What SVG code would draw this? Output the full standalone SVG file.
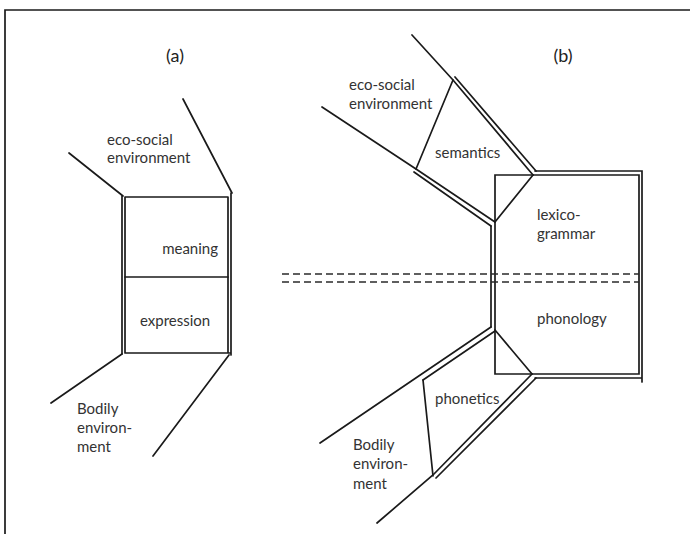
<svg xmlns="http://www.w3.org/2000/svg" width="690" height="534" viewBox="0 0 690 534">
<style>
.ln{stroke:#1a1a1a;stroke-width:1.7;fill:none;stroke-linecap:round;stroke-linejoin:miter}
.dash{stroke:#2a2a2a;stroke-width:1.7;fill:none;stroke-dasharray:7,4}
.t{font-family:Lato,"Open Sans","Liberation Sans",sans-serif;font-size:15px;fill:#333}
.h{font-family:Lato,"Open Sans","Liberation Sans",sans-serif;font-size:18px;fill:#222}
</style>
<rect width="690" height="534" fill="#fff"/>
<g id="frame"><path class="ln" d="M5,534 V10 H690"/></g>
<g id="titles">
<text class="h" x="175" y="62" text-anchor="middle">(a)</text>
<text class="h" x="563" y="62" text-anchor="middle">(b)</text>
</g>
<g id="panel-a">
<g id="a-box">
<path class="ln" d="M122,196 V354 M125,197 V353 M228,197 V353 M231,193 V355 M125,197 H228 M125,353 H231"/>
</g>
<g id="a-meaning"><text class="t" x="218" y="254" text-anchor="end">meaning</text></g>
<g id="a-expression"><path class="ln" d="M125,277 H228"/><text class="t" x="140" y="326">expression</text></g>
<g id="a-eco"><text class="t" x="107" y="145">eco-social</text><text class="t" x="107" y="163">environment</text></g>
<g id="a-body"><text class="t" x="77" y="414">Bodily</text><text class="t" x="77" y="433">environ-</text><text class="t" x="77" y="452">ment</text></g>
</g>
<g id="panel-b">
<g id="b-box">
<path class="ln" d="M495,175 H639 V374 H495 Z"/>
<path class="ln" d="M535,171 H642 V382 M535,378 H642 M491,226 V327"/>
</g>
<g id="b-lexicogrammar"><text class="t" x="537" y="220">lexico-</text><text class="t" x="537" y="239">grammar</text></g>
<g id="b-phonology"><text class="t" x="537" y="324">phonology</text></g>
<g id="b-semantics">
<path class="ln" d="M453,80 L416,169 M533,175 L495,222"/>
<text class="t" x="435" y="158">semantics</text>
</g>
<g id="b-phonetics">
<path class="ln" d="M423,380 L433,476 M495,330 L532,374"/>
<text class="t" x="435" y="404">phonetics</text>
</g>
<g id="b-eco"><text class="t" x="349" y="90">eco-social</text><text class="t" x="349" y="109">environment</text></g>
<g id="b-body"><text class="t" x="353" y="450">Bodily</text><text class="t" x="353" y="469">environ-</text><text class="t" x="353" y="489">ment</text></g>
</g>
<g id="connectors">
<path class="ln" d="M69,153 L123,196 M183,99 L232,193 M122,354 L51,403 M229,355 L153,456"/>
<path class="ln" d="M412,35 L453,80 L533,175 M455,77 L536,171"/>
<path class="ln" d="M322,107 L416,169 L495,222 M414,172 L491,226"/>
<path class="ln" d="M320,443 L491,327 M423,380 L495,331"/>
<path class="ln" d="M532,374 L433,475 L377,523 M536,378 L436,478"/>
<path class="dash" d="M282,274 H639 M282,282 H639"/>
</g>
</svg>
